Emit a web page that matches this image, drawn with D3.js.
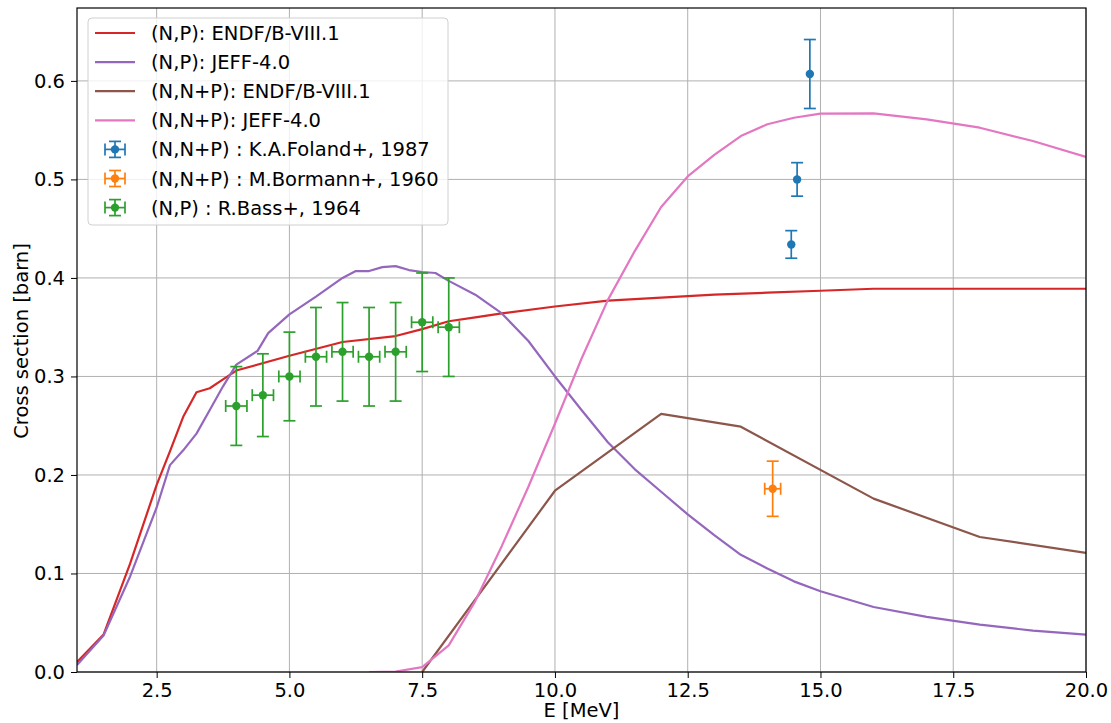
<!DOCTYPE html>
<html><head><meta charset="utf-8">
<script src="https://cdn.jsdelivr.net/npm/d3@7"></script>
<style>body{margin:0;background:#fff;} text{font-family:"DejaVu Sans",sans-serif;}</style>
</head><body><svg id="c" width="1111" height="723"></svg>
<script>
// ---- data ----
const npEndfE = [1.0,1.5,2.0,2.5,2.75,3.0,3.25,3.5,3.75,4.0,5.0,6.0,7.0,7.5,8.0,8.5,9.0,10,11,12,13,14,15,16,18,20];
const npEndfV = [0.010,0.038,0.110,0.190,0.224,0.259,0.284,0.288,0.297,0.306,0.321,0.335,0.341,0.348,0.356,0.360,0.364,0.371,0.377,0.380,0.383,0.385,0.387,0.389,0.389,0.389];
const npJeffE = [1.0,1.5,2.0,2.5,2.75,3.0,3.25,3.5,3.75,4.0,4.4,4.6,5.0,5.5,6.0,6.25,6.5,6.75,7.0,7.25,7.5,7.75,8.0,8.5,9.0,9.5,10,10.5,11,11.5,12,12.5,13,13.5,14,14.5,15,16,17,18,19,20];
const npJeffV = [0.007,0.037,0.097,0.167,0.210,0.225,0.242,0.266,0.290,0.312,0.326,0.344,0.363,0.381,0.400,0.407,0.407,0.411,0.412,0.408,0.406,0.405,0.397,0.383,0.364,0.336,0.300,0.266,0.233,0.206,0.183,0.160,0.139,0.119,0.105,0.092,0.082,0.066,0.056,0.048,0.042,0.038];
const nnpEndfE = [7.5,10,12,13.5,16,18,20];
const nnpEndfV = [0.0,0.184,0.262,0.249,0.176,0.137,0.121];
const nnpJeffE = [6.5,7.0,7.5,8.0,8.5,9.0,9.5,10,10.5,11,11.5,12,12.5,13,13.5,14,14.5,15,16,17,18,19,20];
const nnpJeffV = [0.0,0.0005,0.005,0.027,0.072,0.128,0.188,0.252,0.318,0.378,0.427,0.472,0.503,0.525,0.544,0.556,0.5626,0.5667,0.567,0.561,0.5525,0.539,0.5228];
const folandE = [14.8,14.56,14.45], folandV = [0.607,0.500,0.434], folandErr = [0.035,0.017,0.014], folandXErr = [0,0,0];
const bormannE = [14.1], bormannV = [0.186], bormannErr = [0.028], bormannXErr = [0.15];
const bassE = [4.0,4.5,5.0,5.5,6.0,6.5,7.0,7.5,8.0];
const bassV = [0.270,0.281,0.300,0.320,0.325,0.320,0.325,0.355,0.350];
const bassErr = [0.040,0.042,0.045,0.050,0.050,0.050,0.050,0.050,0.050];
const bassXErr = [0.2,0.2,0.2,0.2,0.2,0.2,0.2,0.2,0.2];
const xTicks = [2.5,5.0,7.5,10.0,12.5,15.0,17.5,20.0];
const yTicks = [0.0,0.1,0.2,0.3,0.4,0.5,0.6];
const lineSeries = [
  {label:"(N,P): ENDF/B-VIII.1", color:"#d62728", E:npEndfE, V:npEndfV},
  {label:"(N,P): JEFF-4.0", color:"#9467bd", E:npJeffE, V:npJeffV},
  {label:"(N,N+P): ENDF/B-VIII.1", color:"#8c564b", E:nnpEndfE, V:nnpEndfV},
  {label:"(N,N+P): JEFF-4.0", color:"#e377c2", E:nnpJeffE, V:nnpJeffV}
];
const errSeries = [
  {label:"(N,N+P) : K.A.Foland+, 1987", color:"#1f77b4", E:folandE, V:folandV, err:folandErr, xerr:folandXErr},
  {label:"(N,N+P) : M.Bormann+, 1960", color:"#ff7f0e", E:bormannE, V:bormannV, err:bormannErr, xerr:bormannXErr},
  {label:"(N,P) : R.Bass+, 1964", color:"#2ca02c", E:bassE, V:bassV, err:bassErr, xerr:bassXErr}
];

// ---- layout ----
const L=77, R=1086, T=8, B=672;
const FS = "19.5px";
const svg = d3.select("#c");
const x = d3.scaleLinear().domain([1,20]).range([L,R]);
const y = d3.scaleLinear().domain([0,0.674]).range([B,T]);

svg.append("defs").append("clipPath").attr("id","clip")
  .append("rect").attr("x",L).attr("y",T).attr("width",R-L).attr("height",B-T);

// grid
const g = svg.append("g");
g.selectAll(".gx").data(xTicks).join("line")
  .attr("x1",d=>x(d)).attr("x2",d=>x(d)).attr("y1",T).attr("y2",B)
  .attr("stroke","#b0b0b0").attr("stroke-width",1);
g.selectAll(".gy").data(yTicks).join("line")
  .attr("x1",L).attr("x2",R).attr("y1",d=>y(d)).attr("y2",d=>y(d))
  .attr("stroke","#b0b0b0").attr("stroke-width",1);

// lines
const plot = svg.append("g").attr("clip-path","url(#clip)");
const lineGen = d3.line().x(d=>x(d[0])).y(d=>y(d[1]));
lineSeries.forEach(s=>{
  plot.append("path").datum(s.E.map((e,i)=>[e,s.V[i]]))
    .attr("d",lineGen).attr("fill","none").attr("stroke",s.color)
    .attr("stroke-width",2.2).attr("stroke-linejoin","round");
});

// error bars
const cap = 6;
errSeries.forEach(s=>{
  const gg = plot.append("g").attr("stroke",s.color).attr("stroke-width",1.7).attr("fill",s.color);
  s.E.forEach((e,i)=>{
    const cx=x(e), cy=y(s.V[i]), y1=y(s.V[i]+s.err[i]), y2=y(s.V[i]-s.err[i]);
    gg.append("line").attr("x1",cx).attr("x2",cx).attr("y1",y1).attr("y2",y2);
    gg.append("line").attr("x1",cx-cap).attr("x2",cx+cap).attr("y1",y1).attr("y2",y1);
    gg.append("line").attr("x1",cx-cap).attr("x2",cx+cap).attr("y1",y2).attr("y2",y2);
    if (s.xerr[i]>0){
      const x1=x(e-s.xerr[i]), x2=x(e+s.xerr[i]);
      gg.append("line").attr("x1",x1).attr("x2",x2).attr("y1",cy).attr("y2",cy);
      gg.append("line").attr("x1",x1).attr("x2",x1).attr("y1",cy-cap).attr("y2",cy+cap);
      gg.append("line").attr("x1",x2).attr("x2",x2).attr("y1",cy-cap).attr("y2",cy+cap);
    }
    gg.append("circle").attr("cx",cx).attr("cy",cy).attr("r",4.2).attr("stroke","none");
  });
});

// axes
const xAxis = d3.axisBottom(x).tickValues(xTicks).tickFormat(d3.format(".1f")).tickSize(6).tickPadding(5);
const yAxis = d3.axisLeft(y).tickValues(yTicks).tickFormat(d3.format(".1f")).tickSize(6).tickPadding(6);
const gx = svg.append("g").attr("transform",`translate(0,${B})`).call(xAxis);
const gy = svg.append("g").attr("transform",`translate(${L},0)`).call(yAxis);
[gx,gy].forEach(a=>{
  a.select(".domain").remove();
  a.selectAll("text").attr("font-size",FS).attr("fill","#000").attr("font-family","DejaVu Sans");
  a.selectAll("line").attr("stroke","#000").attr("stroke-width",1);
});
svg.append("rect").attr("x",L).attr("y",T).attr("width",R-L).attr("height",B-T)
  .attr("fill","none").attr("stroke","#000").attr("stroke-width",1.2);

svg.append("text").attr("x",(L+R)/2).attr("y",717).attr("text-anchor","middle")
  .attr("font-size",FS).text("E [MeV]");
svg.append("text").attr("transform",`translate(28,341) rotate(-90)`).attr("text-anchor","middle")
  .attr("font-size",FS).text("Cross section [barn]");

// legend
const lg = svg.append("g");
lg.append("rect").attr("x",88).attr("y",18).attr("width",360).attr("height",207).attr("rx",4)
  .attr("fill","#fff").attr("fill-opacity",0.8).attr("stroke","#d0d0d0").attr("stroke-width",1);
const rowY = i => 33 + i*29.1;
lineSeries.forEach((s,i)=>{
  lg.append("line").attr("x1",95).attr("x2",135).attr("y1",rowY(i)).attr("y2",rowY(i))
    .attr("stroke",s.color).attr("stroke-width",2.2);
  lg.append("text").attr("x",151).attr("y",rowY(i)).attr("dy","0.36em").attr("font-size",FS).text(s.label);
});
errSeries.forEach((s,j)=>{
  const i=j+4, cy=rowY(i), cx=115;
  const gg = lg.append("g").attr("stroke",s.color).attr("stroke-width",1.7).attr("fill",s.color);
  gg.append("line").attr("x1",cx).attr("x2",cx).attr("y1",cy-8).attr("y2",cy+8);
  gg.append("line").attr("x1",cx-cap).attr("x2",cx+cap).attr("y1",cy-8).attr("y2",cy-8);
  gg.append("line").attr("x1",cx-cap).attr("x2",cx+cap).attr("y1",cy+8).attr("y2",cy+8);
  gg.append("line").attr("x1",cx-10).attr("x2",cx+10).attr("y1",cy).attr("y2",cy);
  gg.append("line").attr("x1",cx-10).attr("x2",cx-10).attr("y1",cy-cap).attr("y2",cy+cap);
  gg.append("line").attr("x1",cx+10).attr("x2",cx+10).attr("y1",cy-cap).attr("y2",cy+cap);
  gg.append("circle").attr("cx",cx).attr("cy",cy).attr("r",4.2).attr("stroke","none");
  lg.append("text").attr("x",151).attr("y",cy).attr("dy","0.36em").attr("font-size",FS).text(s.label);
});
</script></body></html>
